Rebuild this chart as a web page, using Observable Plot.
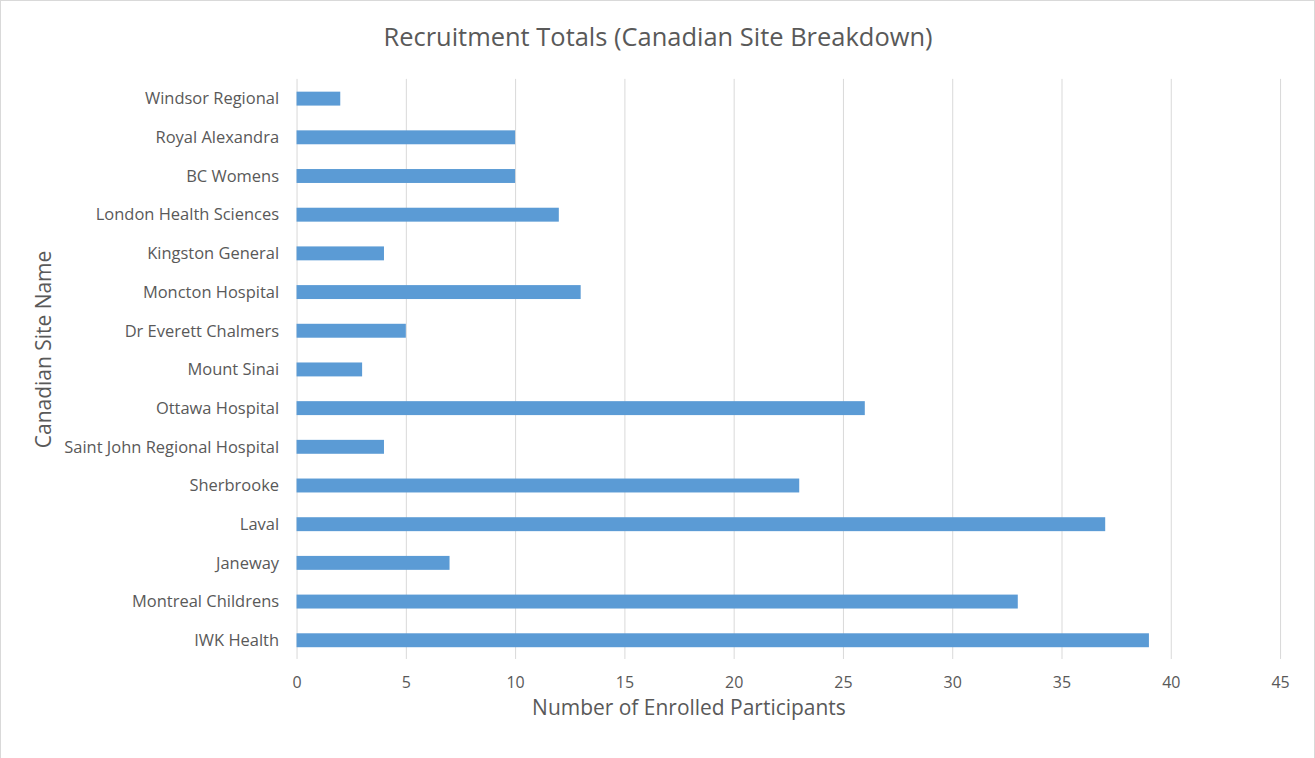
<!DOCTYPE html>
<html>
<head>
<meta charset="utf-8">
<script src="https://cdn.jsdelivr.net/npm/d3@7"></script>
<script src="https://cdn.jsdelivr.net/npm/@observablehq/plot@0.6"></script>
<style>
  html, body { margin: 0; padding: 0; background: #fff; }
  #chart svg { display: block; box-sizing: border-box; border: 1px solid #d9d9d9; }
</style>
</head>
<body>
<div id="chart"></div>
<script>
const sites = [
  "Windsor Regional", "Royal Alexandra", "BC Womens", "London Health Sciences",
  "Kingston General", "Moncton Hospital", "Dr Everett Chalmers", "Mount Sinai",
  "Ottawa Hospital", "Saint John Regional Hospital", "Sherbrooke", "Laval",
  "Janeway", "Montreal Childrens", "IWK Health"
];
const enrolled = [2, 10, 10, 12, 4, 13, 5, 3, 26, 4, 23, 37, 7, 33, 39];
const xTicks = [0, 5, 10, 15, 20, 25, 30, 35, 40, 45];
const titleText = "Recruitment Totals (Canadian Site Breakdown)";
const xLabel = "Number of Enrolled Participants";
const yLabel = "Canadian Site Name";

const data = sites.map((s, i) => ({site: s, value: enrolled[i]}));
const textColor = "#595959";

const chart = Plot.plot({
  width: 1315,
  height: 758,
  marginLeft: 296,
  marginRight: 34,
  marginTop: 78,
  marginBottom: 99,
  style: {fontFamily: "'Open Sans', Lato, sans-serif", fontSize: "16px", color: textColor, background: "#fff"},
  x: {domain: [0, 45], ticks: xTicks, label: null},
  y: {domain: sites, range: [66, 672], padding: 0.64, round: false, label: null},
  marks: [
    Plot.gridX(xTicks, {stroke: "#d9d9d9", strokeOpacity: 1, strokeWidth: 1}),
    Plot.barX(data, {x: "value", y: "site", fill: "#5b9bd5"}),
    Plot.axisX(xTicks, {tickSize: 0, tickPadding: 17, fontSize: 16, fill: textColor, label: null}),
    Plot.axisY({tickSize: 0, tickPadding: 18, fontSize: 16.5, fill: textColor, label: null}),
    Plot.text([titleText], {frameAnchor: "top", dx: -131, dy: -52, fontSize: 25.5, fill: textColor}),
    Plot.text([xLabel], {frameAnchor: "bottom", dx: -100, dy: 56, fontSize: 21, fill: textColor}),
    Plot.text([yLabel], {frameAnchor: "left", dx: -253, dy: -20, rotate: -90, textAnchor: "middle", fontSize: 21, fill: textColor})
  ]
});
document.getElementById("chart").appendChild(chart);
</script>
</body>
</html>
